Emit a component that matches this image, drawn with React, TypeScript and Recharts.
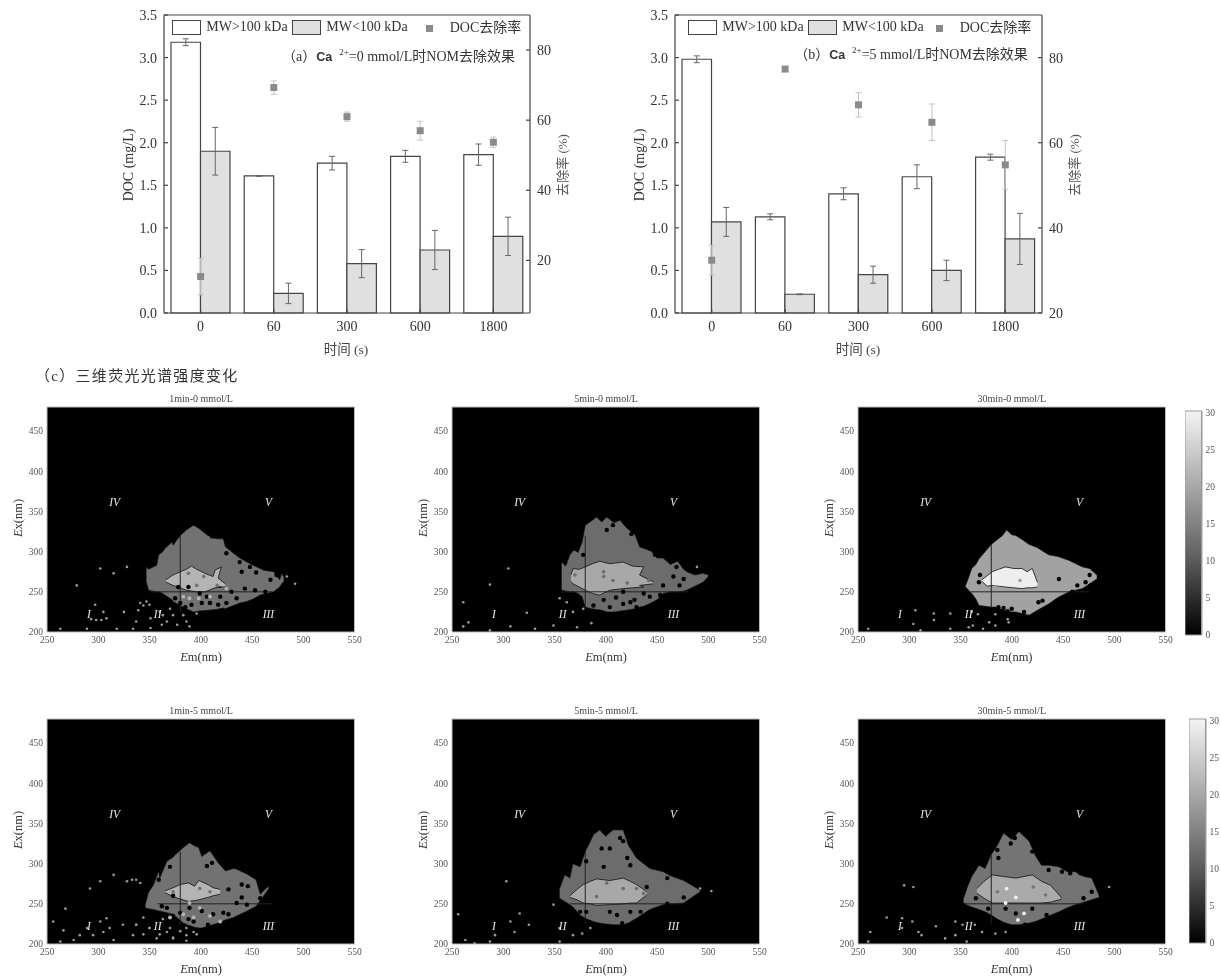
import React from 'react';
import { ComposedChart, Bar, Scatter, Area, XAxis, YAxis, ErrorBar, ReferenceLine, ReferenceDot, CartesianGrid } from 'recharts';

const FONT = "'Liberation Serif','Noto Sans CJK SC',serif";
const times = ['0', '60', '300', '600', '1800'];

const aHigh = [3.18, 1.61, 1.76, 1.84, 1.86];
const aHighErr = [0.04, 0.005, 0.08, 0.07, 0.125];
const aLow = [1.9, 0.23, 0.58, 0.74, 0.9];
const aLowErr = [0.28, 0.12, 0.165, 0.23, 0.225];
const aDoc = [15.4, 69.3, 61, 57, 53.7];
const aDocErr = [5.2, 1.9, 1.3, 2.7, 1.5];

const bHigh = [2.98, 1.13, 1.4, 1.6, 1.83];
const bHighErr = [0.04, 0.035, 0.07, 0.14, 0.035];
const bLow = [1.07, 0.22, 0.45, 0.5, 0.87];
const bLowErr = [0.17, 0.005, 0.1, 0.12, 0.3];
const bDoc = [32.4, 77.3, 68.9, 64.8, 54.8];
const bDocErr = [3.5, 0, 2.85, 4.3, 5.7];

const leftTicks = [0, 0.5, 1, 1.5, 2, 2.5, 3, 3.5];
const rightTicks = [20, 40, 60, 80];
const emTicks = [250, 300, 350, 400, 450, 500, 550];
const exTicks = [200, 250, 300, 350, 400, 450];
const scaleTicks = [0, 5, 10, 15, 20, 25, 30];
const regions: [string, number, number][] = [['IV', 316, 362], ['V', 466, 362], ['I', 291, 223], ['II', 358, 223], ['III', 466, 223]];

type Row = [number, number, number];
type Pt = [number, number];

const p1Outer: Row[] = [[347, 262, 281], [349, 252, 278], [357, 250, 283], [359, 250, 296], [363, 248, 300], [365, 246, 304], [372, 240, 312], [373, 238, 308], [380, 233, 320], [386, 229, 327], [393, 225, 333], [398, 226, 329], [407, 227, 320], [415, 228, 316], [422, 230, 316], [424, 229, 306], [428, 231, 302], [432, 233, 298], [438, 236, 292], [445, 238, 287], [451, 241, 283], [458, 246, 279], [461, 247, 277], [471, 250, 275], [477, 256, 265], [479, 260, 273], [481, 263, 268]];
const p1Inner: Row[] = [[366, 262, 265], [373, 258, 271], [380, 255, 275], [386, 252, 278], [391, 251, 282], [396, 250, 278], [401, 250, 275], [404, 250, 273], [412, 254, 269], [414, 255, 277], [420, 256, 281], [417, 256, 267], [424, 256, 260]];
const p1Holes: Pt[] = [[378, 256], [375, 242], [380, 236], [385, 231], [391, 234], [401, 236], [409, 236], [417, 234], [425, 236], [435, 242], [443, 254], [463, 250], [440, 275], [448, 281], [438, 287], [425, 298], [411, 319], [454, 274], [468, 265], [474, 271], [388, 256], [399, 248], [406, 244], [430, 250], [419, 244], [453, 252]];
const p1InnerHoles: Pt[] = [[388, 273], [396, 258], [403, 269], [416, 258]];
const p1Lights: Pt[] = [[389, 242], [398, 242], [409, 244], [425, 254], [383, 244]];
const p1Specks: Pt[] = [[315, 273], [302, 279], [328, 281], [297, 234], [305, 225], [298, 215], [308, 217], [263, 204], [289, 204], [325, 225], [344, 233], [334, 204], [318, 204], [279, 258], [484, 269], [492, 260], [293, 216], [303, 215], [341, 236], [339, 227], [347, 238], [350, 234], [337, 213], [351, 217], [360, 225], [363, 221], [367, 213], [373, 221], [377, 209], [386, 213], [389, 207], [370, 229], [362, 209], [351, 205], [383, 221], [396, 223]];

const p2Outer: Row[] = [[357, 252, 287], [361, 251, 282], [365, 250, 296], [369, 250, 302], [373, 248, 299], [377, 244, 312], [380, 231, 333], [386, 229, 338], [391, 228, 343], [396, 227, 337], [401, 225, 343], [408, 225, 336], [414, 226, 339], [420, 227, 330], [429, 229, 320], [433, 231, 306], [437, 232, 304], [444, 236, 301], [450, 240, 292], [456, 248, 292], [463, 250, 284], [470, 250, 288], [476, 251, 278], [479, 252, 275], [487, 257, 271], [495, 262, 273], [500, 269, 271]];
const p2Inner: Row[] = [[366, 263, 271], [368, 260, 279], [374, 256, 278], [380, 252, 281], [387, 248, 285], [394, 246, 288], [404, 252, 285], [417, 254, 287], [426, 255, 282], [437, 256, 281], [433, 258, 271], [447, 260, 262]];
const p2Holes: Pt[] = [[401, 327], [407, 333], [425, 322], [378, 296], [443, 304], [448, 296], [469, 281], [466, 269], [476, 266], [472, 258], [456, 258], [417, 250], [437, 248], [443, 244], [453, 246], [388, 233], [404, 231], [417, 235], [424, 237], [430, 231], [394, 225], [372, 233], [372, 242], [398, 240], [410, 243], [428, 240]];
const p2InnerHoles: Pt[] = [[398, 275], [398, 269], [407, 264], [421, 261], [442, 264], [370, 271]];
const p2Specks: Pt[] = [[305, 279], [287, 259], [261, 237], [266, 212], [287, 202], [261, 207], [307, 207], [331, 204], [323, 224], [355, 242], [362, 237], [368, 225], [378, 229], [386, 211], [372, 206], [349, 208], [489, 281]];

const p3Outer: Row[] = [[355, 256, 258], [358, 252, 268], [361, 248, 279], [365, 241, 284], [368, 233, 291], [374, 232, 300], [380, 231, 309], [386, 230, 315], [391, 228, 320], [395, 226, 327], [400, 225, 321], [404, 225, 320], [410, 223, 315], [417, 221, 309], [425, 227, 305], [436, 235, 296], [445, 243, 294], [456, 250, 289], [469, 254, 281], [476, 260, 279], [483, 266, 271]];
const p3Inner: Row[] = [[371, 263, 265], [376, 257, 270], [381, 258, 275], [387, 257, 278], [394, 256, 281], [402, 255, 279], [410, 254, 279], [415, 255, 275], [420, 255, 279], [425, 256, 262]];
const p3Holes: Pt[] = [[369, 271], [368, 262], [446, 266], [464, 258], [472, 262], [477, 258], [459, 250], [430, 239], [387, 231], [400, 229], [378, 223], [371, 228], [407, 221], [426, 237], [476, 271], [392, 230], [383, 229], [412, 225], [396, 226]];
const p3InnerHoles: Pt[] = [[384, 256], [408, 264]];
const p3Specks: Pt[] = [[306, 227], [324, 223], [324, 215], [340, 223], [311, 202], [260, 204], [304, 210], [358, 206], [378, 212], [384, 208], [340, 204], [397, 212], [361, 225], [362, 208], [372, 204], [367, 222], [384, 222], [396, 216]];

const p4Outer: Row[] = [[346, 245, 250], [349, 244, 264], [354, 243, 274], [359, 241, 291], [360, 241, 282], [367, 239, 303], [373, 237, 308], [375, 235, 311], [383, 226, 320], [389, 223, 326], [394, 221, 322], [398, 220, 320], [401, 220, 309], [409, 223, 316], [417, 226, 301], [424, 230, 291], [432, 233, 294], [435, 235, 293], [445, 241, 287], [454, 247, 280], [458, 254, 262], [466, 268, 272]];
const p4Inner: Row[] = [[365, 264, 266], [373, 259, 270], [380, 256, 274], [388, 253, 276], [394, 254, 272], [398, 255, 279], [407, 258, 274], [412, 260, 270], [419, 262, 268]];
const p4Holes: Pt[] = [[370, 296], [359, 280], [411, 301], [406, 297], [440, 274], [427, 268], [440, 258], [446, 272], [458, 257], [445, 249], [435, 251], [422, 239], [412, 237], [401, 241], [389, 245], [380, 239], [367, 245], [362, 247], [373, 235], [388, 231], [407, 224], [427, 237], [393, 228], [373, 260]];
const p4InnerHoles: Pt[] = [[373, 265], [399, 269], [409, 265]];
const p4Lights: Pt[] = [[399, 245], [389, 251], [409, 235], [419, 228], [383, 237], [370, 233], [393, 233]];
const p4Specks: Pt[] = [[292, 269], [302, 278], [315, 286], [328, 278], [337, 280], [268, 244], [266, 217], [256, 228], [282, 211], [289, 220], [302, 228], [308, 232], [305, 215], [315, 205], [324, 224], [337, 224], [350, 220], [357, 207], [334, 211], [367, 215], [373, 207], [386, 211], [393, 215], [263, 203], [276, 205], [295, 211], [311, 220], [333, 280], [341, 276], [337, 224], [344, 233], [350, 220], [363, 231], [370, 220], [380, 216], [386, 220], [396, 212], [360, 212], [344, 212], [373, 208], [386, 204]];

const p5Outer: Row[] = [[355, 257, 269], [360, 253, 286], [365, 249, 282], [368, 246, 300], [375, 236, 296], [380, 232, 315], [384, 230, 325], [388, 228, 336], [394, 226, 342], [400, 225, 334], [407, 224, 342], [417, 224, 342], [422, 226, 323], [430, 232, 307], [437, 238, 300], [443, 243, 294], [456, 249, 290], [463, 250, 285], [476, 251, 279], [484, 258, 273], [492, 265, 267]];
const p5Inner: Row[] = [[365, 258, 260], [372, 255, 268], [378, 251, 274], [385, 250, 278], [391, 248, 281], [404, 249, 279], [417, 250, 282], [424, 251, 278], [430, 251, 274], [440, 261, 265]];
const p5Holes: Pt[] = [[414, 332], [417, 328], [396, 319], [404, 319], [421, 307], [424, 298], [398, 296], [381, 303], [440, 271], [476, 258], [460, 282], [424, 240], [411, 236], [404, 240], [381, 240], [375, 240], [416, 226], [434, 240], [447, 236], [460, 250]];
const p5InnerHoles: Pt[] = [[401, 276], [391, 259], [430, 269], [437, 263], [417, 269]];
const p5Specks: Pt[] = [[256, 237], [263, 205], [272, 201], [287, 203], [292, 211], [307, 228], [311, 215], [325, 224], [316, 238], [349, 249], [355, 220], [368, 211], [385, 220], [377, 213], [355, 203], [303, 278], [503, 266], [492, 269]];

const p6Outer: Row[] = [[353, 251, 257], [357, 248, 272], [361, 246, 284], [368, 243, 298], [374, 240, 294], [380, 236, 311], [386, 231, 323], [392, 227, 338], [400, 224, 330], [407, 224, 340], [417, 226, 328], [423, 228, 310], [429, 231, 298], [436, 235, 298], [446, 240, 296], [454, 245, 290], [462, 249, 290], [470, 252, 284], [478, 255, 282], [485, 258, 261]];
const p6Inner: Row[] = [[366, 263, 269], [373, 257, 278], [381, 251, 286], [392, 251, 284], [404, 251, 282], [412, 251, 284], [420, 251, 286], [429, 251, 278], [438, 252, 273], [449, 256, 257]];
const p6Holes: Pt[] = [[386, 317], [387, 307], [403, 332], [399, 325], [457, 288], [467, 288], [449, 290], [436, 292], [420, 315], [470, 257], [478, 265], [404, 238], [420, 244], [394, 244], [377, 244], [434, 236], [449, 238], [413, 224], [365, 257]];
const p6InnerHoles: Pt[] = [[421, 271], [386, 265], [433, 261]];
const p6Peaks: Pt[] = [[395, 269], [404, 258], [394, 251], [412, 238], [406, 230]];
const p6Specks: Pt[] = [[304, 271], [295, 273], [278, 233], [262, 215], [260, 203], [293, 220], [303, 228], [309, 215], [293, 232], [326, 222], [335, 207], [345, 228], [352, 224], [364, 224], [371, 215], [384, 213], [394, 215], [345, 211], [312, 211], [356, 203], [495, 271]];

const panelTitles = ['1min-0 mmol/L', '5min-0 mmol/L', '30min-0 mmol/L', '1min-5 mmol/L', '5min-5 mmol/L', '30min-5 mmol/L'];
const vEnds: Pt[] = [[225, 320], [230, 320], [230, 310], [225, 315], [225, 315], [225, 310]];
const hEnds: Pt[] = [[350, 470], [357, 480], [360, 475], [358, 470], [365, 475], [353, 470]];
const outers = [p1Outer, p2Outer, p3Outer, p4Outer, p5Outer, p6Outer];
const inners = [p1Inner, p2Inner, p3Inner, p4Inner, p5Inner, p6Inner];
const holes = [p1Holes, p2Holes, p3Holes, p4Holes, p5Holes, p6Holes];
const innerHoles = [p1InnerHoles, p2InnerHoles, p3InnerHoles, p4InnerHoles, p5InnerHoles, p6InnerHoles];
const lights = [p1Lights, [], [], p4Lights, [], p6Peaks];
const specks = [p1Specks, p2Specks, p3Specks, p4Specks, p5Specks, p6Specks];
const outerFill = ['#727272', '#6c6c6c', '#a2a2a2', '#727272', '#6c6c6c', '#747474'];
const innerFill = ['#b4b4b4', '#a8a8a8', '#eeeeee', '#b4b4b4', '#a8a8a8', '#aaaaaa'];
const lightFill = ['#b4b4b4', '#a8a8a8', '#eeeeee', '#b4b4b4', '#a8a8a8', '#f0f0f0'];
const colorbarTop = [30.2];

const T = ({ x, y, rot = 0, size = 13, color = '#333', children }: any) => (
  <div style={{ position: 'absolute', left: x, top: y, transform: `translate(-50%,-50%) rotate(${rot}deg)`, whiteSpace: 'nowrap', fontSize: size, color, fontFamily: FONT, lineHeight: 1 }}>{children}</div>
);

const square = (p: any) => <rect x={p.cx - 3.5} y={p.cy - 3.5} width={7} height={7} fill="#8a8a8a" />;
const tick14 = { fontSize: 14, fill: '#333', fontFamily: FONT };

function BarPanel({ left, width, high, highErr, low, lowErr, doc, docErr, rightDomain }: any) {
  const data = times.map((time, i) => ({ time, high: high[i], highErr: highErr[i], low: low[i], lowErr: lowErr[i], doc: doc[i], docErr: docErr[i] }));
  return (
    <div style={{ position: 'absolute', left, top: 0 }}>
      <ComposedChart width={width} height={360} data={data} margin={{ top: 15, right: 0, bottom: 17, left: 14 }} barGap={0} barSize={29.5}>
        <XAxis dataKey="time" xAxisId="x" tick={tick14} tickSize={-4} tickMargin={12} stroke="#444" strokeWidth={1.2} />
        <YAxis yAxisId="l" width={50} domain={[0, 3.5]} ticks={leftTicks} tick={tick14} tickFormatter={(v: number) => v.toFixed(1)} tickSize={-4} tickMargin={11} stroke="#444" strokeWidth={1.2} />
        <YAxis yAxisId="r" orientation="right" width={50} domain={rightDomain} ticks={rightTicks} tick={tick14} tickSize={-4} tickMargin={11} stroke="#444" strokeWidth={1.2} />
        <ReferenceLine xAxisId="x" yAxisId="l" y={3.5} stroke="#444" strokeWidth={1.2} />
        <Bar xAxisId="x" yAxisId="l" dataKey="high" fill="#ffffff" stroke="#444" strokeWidth={1.2} isAnimationActive={false}>
          <ErrorBar dataKey="highErr" width={3} stroke="#666" strokeWidth={1} direction="y" />
        </Bar>
        <Bar xAxisId="x" yAxisId="l" dataKey="low" fill="#e0e0e0" stroke="#444" strokeWidth={1.2} isAnimationActive={false}>
          <ErrorBar dataKey="lowErr" width={3} stroke="#666" strokeWidth={1} direction="y" />
        </Bar>
        <Scatter xAxisId="x" yAxisId="r" dataKey="doc" shape={square} isAnimationActive={false}>
          <ErrorBar dataKey="docErr" width={3} stroke="#c4c4c4" strokeWidth={1} direction="y" />
        </Scatter>
      </ComposedChart>
    </div>
  );
}

const Legend = ({ x0, x1, x2, x3, x4, x5 }: any) => (
  <>
    <div style={{ position: 'absolute', left: x0, top: 20, width: 27, height: 13, border: '1px solid #444', background: '#fff' }} />
    <T x={x1} y={27} size={14}>MW&gt;100 kDa</T>
    <div style={{ position: 'absolute', left: x2, top: 20, width: 27, height: 13, border: '1px solid #444', background: '#e0e0e0' }} />
    <T x={x3} y={27} size={14}>MW&lt;100 kDa</T>
    <div style={{ position: 'absolute', left: x4 - 3.5, top: 25, width: 7, height: 7, background: '#8a8a8a' }} />
    <T x={x5} y={28} size={14}>DOC去除率</T>
  </>
);

const Note = ({ x, y, tag, conc }: any) => (
  <T x={x} y={y} size={14}>
    （{tag}）<span style={{ fontFamily: 'Liberation Sans', fontWeight: 'bold', fontSize: 12.5 }}>Ca</span>
    <sup style={{ fontSize: 9, marginLeft: 7 }}>2+</sup>={conc} mmol/L时NOM去除效果
  </T>
);

const dot = (fill: string, r: number) => (p: any) => <circle cx={p.cx} cy={p.cy} r={r} fill={fill} />;
const rows = (a: Row[]) => a.map(([em, lo, hi]) => ({ em, band: [lo, hi] }));
const pts = (a: Pt[]) => a.map(([em, ex]) => ({ em, ex }));
const tick9 = { fontSize: 9.5, fill: '#555', fontFamily: FONT };

function Heat({ idx, left, top }: any) {
  const v = vEnds[idx];
  const h = hEnds[idx];
  return (
    <div style={{ position: 'absolute', left: left - 47, top: top - 22 }}>
      <ComposedChart width={370} height={272} margin={{ top: 22, right: 15.5, bottom: 5, left: 7 }}>
        <CartesianGrid horizontal={false} vertical={false} fill="#000" fillOpacity={1} />
        <XAxis type="number" dataKey="em" domain={[250, 550]} ticks={emTicks} height={20} tick={tick9} tickLine={false} tickSize={0} tickMargin={4} stroke="#bbb" allowDataOverflow />
        <YAxis type="number" dataKey="ex" width={40} domain={[200, 480]} ticks={exTicks} tick={tick9} tickLine={false} tickSize={0} tickMargin={4} stroke="#bbb" allowDataOverflow />
        <ReferenceLine y={480} stroke="#bbb" />
        <ReferenceLine x={550} stroke="#bbb" />
        <Area data={rows(outers[idx])} dataKey="band" type="linear" fill={outerFill[idx]} fillOpacity={1} stroke="#111" strokeWidth={0.6} dot={false} activeDot={false} isAnimationActive={false} />
        <Area data={rows(inners[idx])} dataKey="band" type="linear" fill={innerFill[idx]} fillOpacity={1} stroke="#111" strokeWidth={0.8} dot={false} activeDot={false} isAnimationActive={false} />
        <Scatter data={pts(holes[idx])} dataKey="ex" shape={dot('#000', 2.2)} isAnimationActive={false} />
        <Scatter data={pts(innerHoles[idx])} dataKey="ex" shape={dot(outerFill[idx], 1.8)} isAnimationActive={false} />
        <Scatter data={pts(specks[idx])} dataKey="ex" shape={dot('#9a9a9a', 1.3)} isAnimationActive={false} />
        <Scatter data={pts(lights[idx] as Pt[])} dataKey="ex" shape={dot(lightFill[idx], 1.9)} isAnimationActive={false} />
        <ReferenceLine segment={[{ x: 380, y: v[0] }, { x: 380, y: v[1] }]} stroke="#222" strokeWidth={1} />
        <ReferenceLine segment={[{ x: h[0], y: 250 }, { x: h[1], y: 250 }]} stroke="#222" strokeWidth={1} />
        {regions.map(([name, em, ex]) => (
          <ReferenceDot key={name} x={em} y={ex} r={0} stroke="none" label={{ value: name, position: 'center', fill: '#e8e8e8', fontSize: 11.5, fontStyle: 'italic', fontFamily: FONT }} />
        ))}
      </ComposedChart>
    </div>
  );
}

function Colorbar({ id, left, top }: any) {
  return (
    <div style={{ position: 'absolute', left, top: top - 7 }}>
      <ComposedChart width={35} height={239} data={[{ name: 'scale', level: colorbarTop[0] }]} margin={{ top: 8, right: 0, bottom: 7, left: 0 }} barCategoryGap={0}>
        <defs>
          <linearGradient id={id} x1="0" y1="0" x2="0" y2="1">
            <stop offset="0%" stopColor="#f4f4f4" />
            <stop offset="30%" stopColor="#b0b0b0" />
            <stop offset="65%" stopColor="#606060" />
            <stop offset="100%" stopColor="#000" />
          </linearGradient>
        </defs>
        <XAxis dataKey="name" hide />
        <YAxis orientation="right" width={18.5} domain={[0, colorbarTop[0]]} ticks={scaleTicks} interval={0} tick={tick9} tickLine={false} tickSize={0} tickMargin={4} stroke="#999" />
        <Bar dataKey="level" fill={`url(#${id})`} stroke="#999" isAnimationActive={false} />
      </ComposedChart>
    </div>
  );
}

const panelPos = [[47, 407], [452, 407], [857.7, 407], [47, 719.3], [452, 719.3], [857.7, 719.3]];

export default function App() {
  return (
    <div style={{ position: 'absolute', left: 0, top: 0, width: 1221, height: 977, background: '#fff', overflow: 'hidden', filter: 'blur(0.5px)' }}>
      <BarPanel left={100} width={480} high={aHigh} highErr={aHighErr} low={aLow} lowErr={aLowErr} doc={aDoc} docErr={aDocErr} rightDomain={[5, 90]} />
      <BarPanel left={611} width={481} high={bHigh} highErr={bHighErr} low={bLow} lowErr={bLowErr} doc={bDoc} docErr={bDocErr} rightDomain={[20, 90]} />
      <Legend x0={172} x1={247} x2={292} x3={367} x4={429} x5={485.5} />
      <Legend x0={688} x1={763} x2={808} x3={883} x4={939} x5={995.5} />
      <T x={129} y={165} rot={-90} size={14}>DOC (mg/L)</T>
      <T x={640} y={165} rot={-90} size={14}>DOC (mg/L)</T>
      <T x={562} y={165} rot={-90} color="#555">去除率 (%)</T>
      <T x={1074} y={165} rot={-90} color="#555">去除率 (%)</T>
      <T x={346} y={350} size={13.5} color="#444">时间 (s)</T>
      <T x={858} y={350} size={13.5} color="#444">时间 (s)</T>
      <Note x={398.5} y={56} tag="a" conc={0} />
      <Note x={911} y={54} tag="b" conc={5} />
      <div style={{ position: 'absolute', left: 35, top: 369, whiteSpace: 'nowrap', fontSize: 15, letterSpacing: 1.3, color: '#333', fontFamily: FONT, lineHeight: 1 }}>（c）三维荧光光谱强度变化</div>
      {panelPos.map(([x, y], i) => (
        <React.Fragment key={i}>
          <Heat idx={i} left={x} top={y} />
          <T x={x + 154} y={y - 8} size={10} color="#444">{panelTitles[i]}</T>
          <T x={x + 154} y={y + 250} size={12.5}><i>E</i>m(nm)</T>
          <T x={x - 29} y={y + 111} rot={-90} size={12.5}><i>E</i>x(nm)</T>
        </React.Fragment>
      ))}
      <Colorbar id="g1" left={1185} top={410} />
      <Colorbar id="g2" left={1189} top={718} />
    </div>
  );
}
